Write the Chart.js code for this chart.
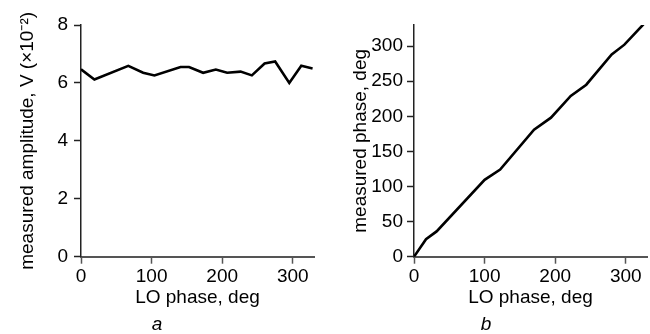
<!DOCTYPE html>
<html>
<head>
<meta charset="utf-8">
<script src="https://cdn.jsdelivr.net/npm/chart.js@4.4.1/dist/chart.umd.min.js"></script>
<style>
  html, body { margin: 0; padding: 0; background: #fff; }
  #wrap { position: relative; width: 650px; height: 334px; }
  .box { position: absolute; top: 0; width: 325px; height: 334px; }
</style>
</head>
<body>
<div id="wrap">
  <div class="box" style="left:0"><canvas id="chartA"></canvas></div>
  <div class="box" style="left:325px"><canvas id="chartB"></canvas></div>
</div>
<script>
// --- data ---
const phaseA = [0, 19, 67, 88, 104, 141, 153, 173, 191, 207, 226, 242, 260, 275, 295, 312, 328];
const amplitudeA = [6.47, 6.12, 6.59, 6.35, 6.26, 6.55, 6.55, 6.35, 6.46, 6.35, 6.39, 6.26, 6.67, 6.74, 6.0, 6.59, 6.5];

const phaseB = [0, 17, 32, 100, 122, 170, 194, 222, 244, 280, 298, 325];
const measuredB = [0, 25, 36, 109.5, 124, 181, 198, 229, 245, 288, 302, 331];

const xTicks = [0, 100, 200, 300];
const yTicksA = [0, 2, 4, 6, 8];
const yTicksB = [0, 50, 100, 150, 200, 250, 300];

const FONT = "'Liberation Sans', Arial, Helvetica, sans-serif";
Chart.defaults.font.family = FONT;
Chart.defaults.font.size = 19;
Chart.defaults.color = '#000';

function toPoints(xs, ys) { return xs.map((x, i) => ({ x: x, y: ys[i] })); }

function makeChart(id, xs, ys, opt) {
  return new Chart(document.getElementById(id), {
    type: 'line',
    data: {
      datasets: [{
        data: toPoints(xs, ys),
        borderColor: '#000',
        borderWidth: 2.6,
        pointRadius: 0,
        tension: 0,
        fill: false
      }]
    },
    options: {
      responsive: true,
      maintainAspectRatio: false,
      animation: false,
      layout: { padding: { left: 0, right: opt.padRight, top: 25, bottom: 0 } },
      plugins: {
        legend: { display: false },
        tooltip: { enabled: false },
        title: {
          display: true,
          position: 'bottom',
          text: opt.label,
          font: { size: 19, style: 'italic', weight: 'normal', lineHeight: 1 },
          padding: 0,
          color: '#000'
        }
      },
      scales: {
        x: {
          type: 'linear',
          min: 0, max: 330,
          afterFit: s => { s.height = 58.3; },
          afterBuildTicks: s => { s.ticks = xTicks.map(v => ({ value: v })); },
          ticks: { padding: 1.6, color: '#000' },
          grid: { drawOnChartArea: false, drawTicks: true, tickLength: 7, color: '#555', tickWidth: 1.5 },
          border: { display: true, color: '#555', width: 2 },
          title: { display: true, text: 'LO phase, deg', color: '#000', padding: { top: 0, bottom: 6.3 } }
        },
        y: {
          min: 0, max: opt.yMax,
          afterFit: s => { s.width = opt.yWidth; },
          afterBuildTicks: s => { s.ticks = opt.yTicks.map(v => ({ value: v })); },
          ticks: { padding: opt.yPad, color: '#000' },
          grid: { drawOnChartArea: false, drawTicks: true, tickLength: 7, color: '#222', tickWidth: 1.5 },
          border: { display: true, color: '#222', width: 1.5 },
          title: { display: true, text: opt.yTitle, color: '#000', padding: { top: opt.yTitlePad, bottom: 0 } }
        }
      }
    }
  });
}

makeChart('chartA', phaseA, amplitudeA, {
  label: 'a', yMax: 8, yTicks: yTicksA, yWidth: 81, yPad: 6, yTitlePad: 16.6, padRight: 11,
  yTitle: 'measured amplitude, V (\u00d710\u207b\u00b2)'
});
makeChart('chartB', phaseB, measuredB, {
  label: 'b', yMax: 330, yTicks: yTicksB, yWidth: 89, yPad: 4, yTitlePad: 24.3, padRight: 3,
  yTitle: 'measured phase, deg'
});
</script>
</body>
</html>
